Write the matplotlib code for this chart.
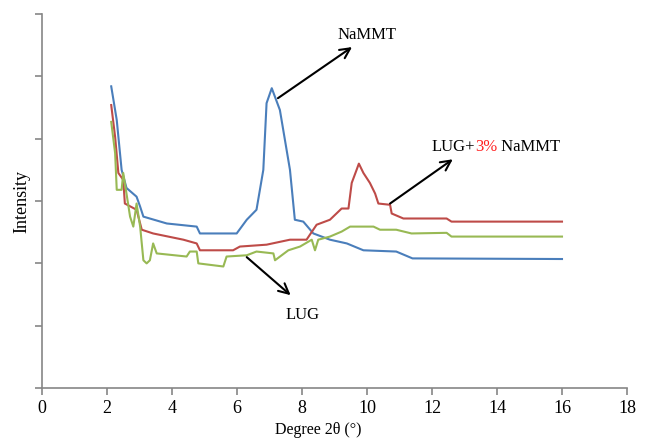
import matplotlib.pyplot as plt

plt.rcParams['font.family'] = ['Liberation Serif', 'DejaVu Serif']

# NaMMT (blue)
nammt_x = [2.13, 2.30, 2.45, 2.60, 2.91, 3.02, 3.12, 3.84, 4.76, 4.86, 5.99, 6.30, 6.60,
           6.81, 6.91, 7.07, 7.32, 7.63, 7.78, 8.04, 8.35, 8.86, 9.38, 9.89, 10.9, 11.4, 16.0]
nammt_y = [4.84, 4.30, 3.50, 3.21, 3.07, 2.91, 2.75, 2.64, 2.59, 2.48, 2.48, 2.70, 2.86,
           3.50, 4.57, 4.81, 4.46, 3.50, 2.70, 2.67, 2.48, 2.38, 2.32, 2.21, 2.19, 2.08, 2.07]

# LUG+3% NaMMT (red)
mix_x = [2.13, 2.25, 2.35, 2.50, 2.55, 2.91, 3.07, 3.42, 4.35, 4.76, 4.86, 5.88, 6.09,
         6.91, 7.63, 8.14, 8.45, 8.86, 9.22, 9.43, 9.53, 9.68, 9.75, 9.89, 10.09, 10.25,
         10.35, 10.71, 10.76, 11.12, 12.45, 12.60, 16.0]
mix_y = [4.54, 4.03, 3.45, 3.34, 2.96, 2.86, 2.54, 2.48, 2.38, 2.32, 2.21, 2.21, 2.27,
         2.30, 2.38, 2.38, 2.62, 2.70, 2.88, 2.88, 3.29, 3.50, 3.60, 3.45, 3.29, 3.12,
         2.96, 2.94, 2.80, 2.72, 2.72, 2.67, 2.67]

# LUG (green)
lug_x = [2.13, 2.25, 2.30, 2.45, 2.50, 2.60, 2.71, 2.81, 2.91, 3.02, 3.12, 3.22, 3.32,
         3.42, 3.53, 4.45, 4.55, 4.76, 4.81, 5.58, 5.68, 6.30, 6.60, 7.12, 7.17, 7.58,
         7.94, 8.30, 8.40, 8.50, 8.86, 9.22, 9.48, 10.2, 10.4, 10.9, 11.37, 12.45, 12.60, 16.0]
lug_y = [4.27, 3.77, 3.18, 3.18, 3.45, 3.12, 2.75, 2.59, 2.96, 2.59, 2.05, 2.00, 2.05,
         2.32, 2.16, 2.11, 2.19, 2.19, 2.00, 1.95, 2.11, 2.13, 2.19, 2.16, 2.05, 2.21,
         2.27, 2.38, 2.21, 2.38, 2.43, 2.51, 2.59, 2.59, 2.54, 2.54, 2.48, 2.49, 2.43, 2.43]

fig = plt.figure(figsize=(6.5, 4.38), dpi=100)
ax = fig.add_axes([0.0646, 0.114, 0.9, 0.854])

ax.plot(nammt_x, nammt_y, color='#4A7EBB', lw=1.5)
ax.plot(mix_x, mix_y, color='#BE4B48', lw=1.5)
ax.plot(lug_x, lug_y, color='#98B954', lw=1.5)

ax.set_xlim(0, 18)
ax.set_ylim(0, 6)
ax.set_xticks(range(0, 19, 2))
ax.set_yticks(range(0, 7))
ax.set_yticklabels([])
for s in ['top', 'right']:
    ax.spines[s].set_visible(False)
for s in ['left', 'bottom']:
    ax.spines[s].set_color('#868686')
    ax.spines[s].set_linewidth(1.2)
ax.tick_params(colors='#868686', length=5, width=1.2, labelcolor='black', labelsize=13)

ax.set_xlabel('Degree 2θ (°)', fontsize=11.5)
ax.xaxis.set_label_coords(0.472, -0.092)
ax.set_ylabel('Intensity', fontsize=13)
ax.yaxis.set_label_coords(-0.02, 0.5)

arrow = dict(arrowstyle='->', color='black', lw=1.5, mutation_scale=18, shrinkA=0, shrinkB=0)
ax.annotate('', xy=(9.54, 5.47), xytext=(7.26, 4.65), arrowprops=arrow)
ax.text(10.0, 5.67, 'NaMMT', fontsize=12, ha='center', va='center')

ax.annotate('', xy=(12.64, 3.67), xytext=(10.71, 2.96), arrowprops=arrow)
t1 = ax.text(11.98, 3.80, 'LUG+', fontsize=12, ha='left', va='baseline')
t2 = ax.annotate('3%', xycoords=t1, xy=(1, 0), va='bottom', fontsize=12, color='#FF2020')
ax.annotate(' NaMMT', xycoords=t2, xy=(1, 0), va='bottom', fontsize=12)

ax.annotate('', xy=(7.65, 1.49), xytext=(6.30, 2.10), arrowprops=arrow)
ax.text(8.02, 1.17, 'LUG', fontsize=12, ha='center', va='center')

fig.savefig('out.png', dpi=100)
